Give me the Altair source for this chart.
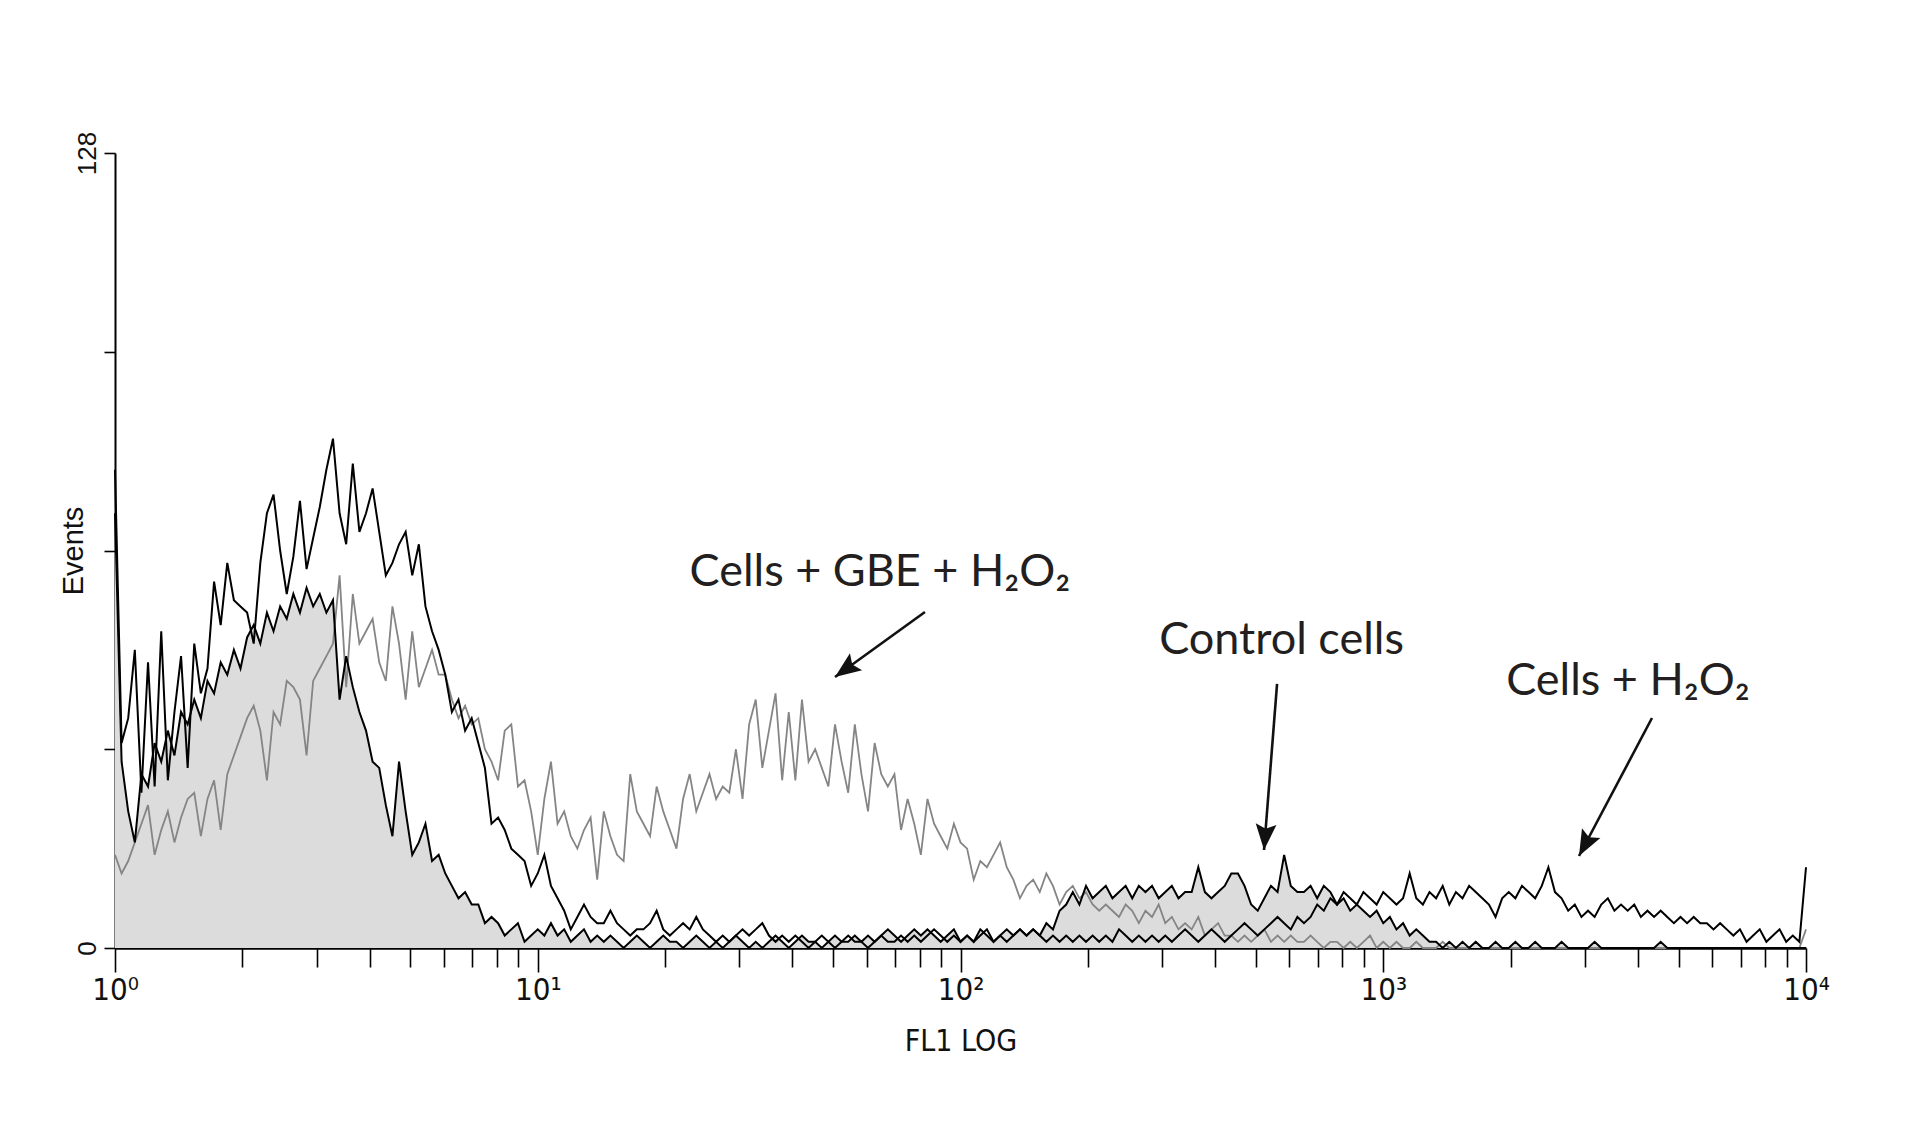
import altair as alt
import pandas as pd

# ---------------- data ----------------
CHANNELS_PER_DECADE = 64  # 256 log channels over 4 decades

CONTROL = [
    70, 30, 22, 17, 28, 26, 33, 30, 35, 31, 38, 36, 40, 37, 43, 41,
    46, 44, 48, 45, 50, 52, 49, 54, 51, 55, 53, 57, 54, 58, 55, 57,
    54, 56, 40, 47, 42, 38, 35, 30, 29, 23, 18, 30, 22, 15, 17, 20,
    14, 15, 12, 10, 8, 9, 7, 7, 4, 5, 4, 2, 3, 4, 1, 2,
    3, 2, 4, 2, 3, 1, 2, 3, 1, 2, 1, 2, 1, 0, 1, 2,
    1, 0, 1, 2, 1, 1, 0, 1, 2, 1, 0, 1, 0, 1, 2, 1,
    0, 1, 0, 1, 2, 1, 0, 1, 2, 1, 1, 0, 1, 2, 1, 1,
    2, 1, 2, 1, 2, 3, 2, 1, 2, 3, 2, 3, 2, 1, 2, 3,
    1, 2, 1, 3, 2, 1, 2, 3, 2, 3, 2, 3, 2, 4, 3, 6,
    7, 9, 7, 10, 8, 9, 10, 8, 9, 10, 8, 10, 9, 10, 8, 9,
    10, 8, 9, 9, 13, 9, 8, 9, 10, 12, 12, 10, 7, 6, 8, 10,
    9, 15, 10, 9, 9, 10, 8, 10, 9, 7, 8, 6, 7, 6, 5, 6,
    4, 5, 3, 4, 2, 3, 2, 1, 1, 0, 1, 0, 1, 0, 1, 0,
    0, 1, 0, 0, 1, 0, 0, 1, 0, 0, 0, 1, 0, 0, 0, 0,
    1, 0, 0, 0, 0, 0, 0, 0, 0, 0, 1, 0, 0, 0, 0, 0,
    0, 0, 0, 0, 0, 0, 0, 0, 0, 0, 0, 0, 0, 0, 0, 0,
    0,
]

CELLS_H2O2 = [
    77, 33, 37, 48, 25, 46, 26, 51, 27, 38, 47, 29, 49, 41, 45, 59,
    52, 62, 56, 55, 54, 49, 62, 70, 73, 64, 57, 63, 72, 61, 66, 71,
    77, 82, 70, 65, 78, 67, 70, 74, 67, 60, 62, 65, 67, 60, 65, 55,
    51, 48, 44, 38, 40, 35, 37, 33, 29, 20, 21, 19, 16, 15, 14, 10,
    12, 15, 10, 8, 6, 3, 5, 7, 5, 4, 4, 6, 4, 3, 2, 3,
    3, 4, 6, 3, 2, 3, 4, 3, 5, 3, 2, 1, 2, 1, 2, 3,
    2, 3, 4, 2, 1, 2, 1, 2, 1, 0, 1, 2, 1, 0, 1, 2,
    1, 1, 0, 1, 2, 1, 1, 2, 1, 2, 1, 2, 3, 2, 1, 2,
    1, 2, 1, 2, 3, 1, 2, 1, 2, 3, 2, 3, 2, 1, 2, 1,
    2, 1, 2, 1, 2, 1, 2, 1, 3, 2, 1, 2, 1, 2, 1, 2,
    1, 2, 3, 2, 1, 2, 3, 2, 1, 2, 3, 4, 3, 2, 3, 4,
    5, 4, 3, 5, 4, 5, 7, 6, 8, 7, 9, 8, 7, 9, 8, 7,
    9, 8, 7, 8, 12, 8, 7, 9, 8, 10, 7, 9, 8, 10, 9, 8,
    7, 5, 8, 9, 8, 10, 9, 8, 10, 13, 9, 8, 6, 7, 5, 6,
    5, 7, 8, 6, 7, 6, 7, 5, 6, 5, 6, 5, 4, 5, 4, 5,
    4, 4, 3, 4, 3, 2, 3, 1, 2, 3, 1, 2, 3, 1, 2, 1,
    13,
]

CELLS_GBE_H2O2 = [
    15, 12, 14, 17, 20, 23, 15, 19, 22, 17, 21, 24, 25, 18, 24, 27,
    19, 28, 31, 34, 37, 39, 35, 27, 38, 36, 43, 42, 40, 31, 43, 45,
    47, 49, 60, 42, 57, 49, 51, 53, 46, 43, 55, 49, 40, 51, 42, 45,
    48, 44, 44, 40, 37, 39, 36, 37, 32, 30, 27, 35, 36, 26, 27, 22,
    15, 24, 30, 20, 22, 18, 16, 19, 21, 11, 22, 18, 15, 14, 28, 22,
    20, 18, 26, 22, 19, 16, 24, 28, 22, 25, 28, 24, 26, 25, 32, 24,
    36, 40, 29, 35, 41, 27, 38, 27, 40, 30, 32, 29, 26, 36, 30, 25,
    36, 28, 22, 33, 28, 26, 28, 19, 24, 20, 15, 24, 20, 18, 16, 20,
    17, 16, 11, 14, 13, 15, 17, 13, 11, 8, 10, 11, 9, 12, 10, 7,
    9, 10, 8, 9, 7, 6, 7, 6, 5, 7, 6, 4, 6, 5, 7, 4,
    5, 3, 4, 3, 5, 2, 3, 4, 2, 2, 1, 2, 1, 2, 3, 1,
    2, 1, 2, 1, 1, 2, 1, 0, 1, 1, 0, 1, 0, 1, 2, 0,
    1, 0, 1, 0, 0, 1, 0, 0, 0, 1, 0, 0, 0, 0, 1, 0,
    0, 0, 0, 0, 0, 0, 0, 0, 0, 0, 0, 0, 0, 0, 0, 0,
    0, 0, 0, 0, 0, 0, 0, 0, 0, 0, 0, 0, 0, 0, 0, 0,
    0, 0, 0, 0, 0, 0, 0, 0, 0, 0, 0, 0, 0, 0, 0, 0,
    3,
]

SERIES_NAMES = ["Control cells", "Cells + H2O2", "Cells + GBE + H2O2"]

X_TICKS = [k * 10 ** d for d in range(4) for k in range(1, 10)] + [10000]
X_LABELS = {1: "10⁰", 10: "10¹", 100: "10²", 1000: "10³", 10000: "10⁴"}
Y_TICKS = [0, 32, 64, 96, 128]
Y_LABELED = [0, 128]

ANNOT_TEXT = ["Cells + GBE + H₂O₂", "Control cells", "Cells + H₂O₂"]
ANNOT_X = [64.5, 574.6, 3793]
ANNOT_Y = [58.3, 47.4, 40.8]

ARROW_TAIL_X = [82.4, 560.8, 4322]
ARROW_TAIL_Y = [54.10, 42.51, 37.03]
ARROW_TIP_X = [50.48, 522.4, 2904]
ARROW_TIP_Y = [43.63, 15.78, 14.81]
ARROW_ANGLE = [234, 184.5, 208]

# ---------------- tables ----------------
rows = []
for name, vals in zip(SERIES_NAMES, [CONTROL, CELLS_H2O2, CELLS_GBE_H2O2]):
    for ch, v in enumerate(vals):
        rows.append({"fl1": 10 ** (ch / CHANNELS_PER_DECADE), "events": v, "series": name})
hist = pd.DataFrame(rows)

annot = pd.DataFrame({"fl1": ANNOT_X, "events": ANNOT_Y, "label": ANNOT_TEXT})
arrows = pd.DataFrame({
    "fl1": ARROW_TAIL_X, "events": ARROW_TAIL_Y,
    "fl1_tip": ARROW_TIP_X, "events_tip": ARROW_TIP_Y,
})
heads = pd.DataFrame({"fl1": ARROW_TIP_X, "events": ARROW_TIP_Y, "angle": ARROW_ANGLE})

# ---------------- axes ----------------
major_test = "indexof([1, 10, 100, 1000, 10000], datum.value) >= 0"
label_expr = " : ".join(
    f"datum.value == {k} ? '{v}'" for k, v in X_LABELS.items()
) + " : ''"
ylabel_expr = " || ".join(f"datum.value == {v}" for v in Y_LABELED)
ylabel_expr = f"({ylabel_expr}) ? datum.label : ''"

AXIS_FONT = "Liberation Sans Narrow, DejaVu Sans Condensed, Arial Narrow, sans-serif"

x_axis = alt.Axis(
    values=X_TICKS,
    labelExpr=label_expr,
    title="FL1 LOG",
    grid=False,
    domainColor="black",
    domainWidth=2.4,
    tickColor="black",
    tickWidth=1.6,
    tickSize={"condition": {"test": major_test, "value": 24}, "value": 19},
    labelFont=AXIS_FONT,
    labelFontSize=31,
    labelColor="#111",
    labelPadding=3,
    labelFlush=False,
    labelOverlap=False,
    labelBound=False,
    titleFont=AXIS_FONT,
    titleFontSize=30,
    titleFontWeight="normal",
    titleColor="#111",
    titleX=845.5,
    titleY=102,
    titleAlign="center",
    titleBaseline="alphabetic",
)

y_axis = alt.Axis(
    values=Y_TICKS,
    labelExpr=ylabel_expr,
    title="Events",
    grid=False,
    domainColor="black",
    domainWidth=2,
    tickColor="black",
    tickWidth=1.6,
    tickSize=11,
    labelFont="Liberation Sans",
    labelFontSize=26,
    labelColor="#111",
    labelAngle=270,
    labelAlign="center",
    labelBaseline="middle",
    labelPadding=17,
    labelOverlap=False,
    labelBound=False,
    titleFont="Liberation Sans",
    titleFontSize=29,
    titleFontWeight="normal",
    titleColor="#111",
    titleAngle=270,
    titleX=-42,
    titleY=397.5,
    titleAlign="center",
    titleBaseline="middle",
)

X = alt.X("fl1:Q", scale=alt.Scale(type="log", domain=[1, 10000], nice=False), axis=x_axis)
Y = alt.Y("events:Q", scale=alt.Scale(domain=[0, 128], nice=False, zero=True), axis=y_axis)

base = alt.Chart(hist)

control_fill = base.transform_filter(alt.datum.series == "Control cells").mark_area(
    interpolate="linear", color="#dcdcdc", opacity=1
).encode(x=X, y=Y)

gbe_line = base.transform_filter(alt.datum.series == "Cells + GBE + H2O2").mark_line(
    interpolate="linear", color="#858585", strokeWidth=1.8
).encode(x=X, y=Y)

control_line = base.transform_filter(alt.datum.series == "Control cells").mark_line(
    interpolate="linear", color="black", strokeWidth=2
).encode(x=X, y=Y)

h2o2_line = base.transform_filter(alt.datum.series == "Cells + H2O2").mark_line(
    interpolate="linear", color="black", strokeWidth=2
).encode(x=X, y=Y)

labels = alt.Chart(annot).mark_text(
    font="Lato, Noto Sans, sans-serif", fontSize=45, align="center",
    baseline="alphabetic", color="#231f20"
).encode(x=X, y=Y, text="label:N")

shafts = alt.Chart(arrows).mark_rule(color="#111", strokeWidth=2.6).encode(
    x=X, y=Y, x2=alt.X2("fl1_tip:Q"), y2=alt.Y2("events_tip:Q")
)

HEAD_PATH = "M0,0 L-0.4,1 L0,0.82 L0.4,1 Z"
arrow_heads = alt.Chart(heads).mark_point(
    shape=HEAD_PATH, filled=True, size=2704, color="#111", opacity=1, strokeWidth=0
).encode(x=X, y=Y, angle=alt.Angle("angle:Q", scale=None))

chart = alt.layer(
    control_fill, gbe_line, control_line, h2o2_line, shafts, arrow_heads, labels
).properties(
    width=1691,
    height=795,
    padding={"left": 107, "top": 145, "right": 90, "bottom": 150},
    autosize=alt.AutoSizeParams(type="none"),
    background="white",
).configure_view(stroke=None)

chart.save("out.html", embed_options={"renderer": "svg", "actions": False})
